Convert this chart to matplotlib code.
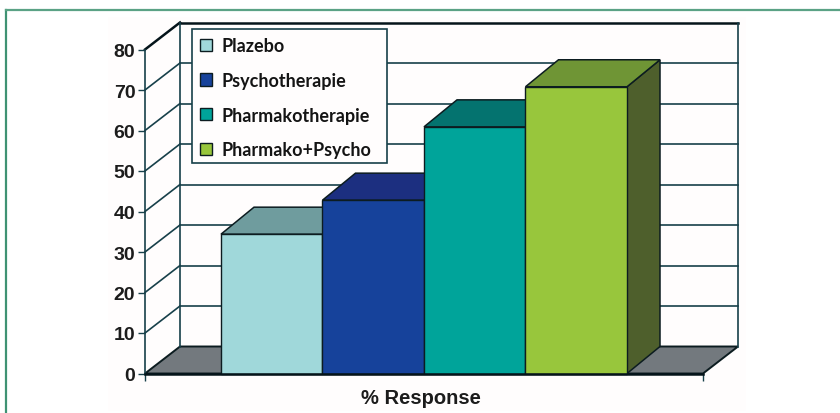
import matplotlib
matplotlib.use('Agg')
import matplotlib.pyplot as plt
from matplotlib.patches import Patch, Polygon, Rectangle

categories = ["Plazebo", "Psychotherapie", "Pharmakotherapie", "Pharmako+Psycho"]
response = [34.4, 42.8, 60.9, 70.8]
y_ticks = [0, 10, 20, 30, 40, 50, 60, 70, 80]
x_label = "% Response"

front_colors = ["#a0d8da", "#16429b", "#00a49a", "#98c63c"]
top_colors = ["#6f9c9e", "#1c2f80", "#04736f", "#6f9535"]
side_colors = ["#5b7b7c", "#142668", "#045a58", "#4e5f2c"]

W, H = 840, 414
BAR_PX = 101.5
Y_PX = 4.05
X0_PX, Y0_PX = 221.0, 374.5
# data units: one bar wide on x, percent on y
x_min, x_max = -X0_PX / BAR_PX, (W - X0_PX) / BAR_PX
y_min, y_max = -(H - Y0_PX) / Y_PX, Y0_PX / Y_PX

x_front_l = (145 - X0_PX) / BAR_PX
x_front_r = (703 - X0_PX) / BAR_PX
depth_x = 35 / BAR_PX
depth_y = 27 / Y_PX
bar_depth_x = 33 / BAR_PX

GRID = "#17404a"
EDGE = "#0c1c20"
PAPER = "#fffdfd"


def px_x(p):
    return (p - X0_PX) / BAR_PX


def px_y(p):
    return (Y0_PX - p) / Y_PX


fig = plt.figure(figsize=(W / 100, H / 100), dpi=100, facecolor="white")
ax = fig.add_axes([0, 0, 1, 1])
ax.set_xlim(x_min, x_max)
ax.set_ylim(y_min, y_max)
ax.patch.set_alpha(0)

# green rule along top and left of the page
ax.plot([px_x(5.5), px_x(5.5)], [px_y(420), px_y(11)], color="#3f9273", lw=1.6, zorder=0, solid_capstyle="projecting")
ax.plot([px_x(5.5), px_x(845)], [px_y(11), px_y(11)], color="#5aa285", lw=1.6, zorder=0, solid_capstyle="projecting")

# faint paper tone behind the plot
ax.add_patch(Rectangle((px_x(108), px_y(412)), px_x(746) - px_x(108), px_y(18) - px_y(412), fc=PAPER, ec="none", zorder=0))

# floor
ax.add_patch(Polygon([(x_front_l, 0), (x_front_r, 0), (x_front_r + depth_x, depth_y), (x_front_l + depth_x, depth_y)],
                     fc="#73797e", ec=EDGE, lw=1.4, zorder=1))

# back wall and gridlines
for t in y_ticks[1:-1]:
    ax.plot([x_front_l + depth_x, x_front_r + depth_x], [t + depth_y] * 2, color=GRID, lw=1.2, zorder=1)
    ax.plot([x_front_l, x_front_l + depth_x], [t, t + depth_y], color=GRID, lw=1.2, zorder=1)
ax.plot([x_front_l, x_front_l + depth_x], [80, 80 + depth_y], color="#05141a", lw=1.8, zorder=1)
ax.plot([x_front_l + depth_x, x_front_r + depth_x], [80 + depth_y] * 2, color="#05141a", lw=1.8, zorder=1)
ax.plot([x_front_l + depth_x] * 2, [depth_y, 80 + depth_y], color=GRID, lw=1.2, zorder=1)
ax.plot([x_front_r + depth_x] * 2, [depth_y, 80 + depth_y], color=GRID, lw=1.2, zorder=1)

# 3D columns, drawn left to right so each front covers the neighbour's side
for i, val in enumerate(response):
    x0, x1 = float(i), i + 1.0
    ax.add_patch(Polygon([(x1, 0), (x1 + bar_depth_x, depth_y), (x1 + bar_depth_x, val + depth_y), (x1, val)],
                         fc=side_colors[i], ec=EDGE, lw=1.1, zorder=2 + i))
    ax.add_patch(Polygon([(x0, val), (x1, val), (x1 + bar_depth_x, val + depth_y), (x0 + bar_depth_x, val + depth_y)],
                         fc=top_colors[i], ec=EDGE, lw=1.1, zorder=2 + i))
    ax.bar(x0, val, width=1.0, align="edge", color=front_colors[i], edgecolor=EDGE, linewidth=1.0, zorder=2 + i)

# axes themselves
for name in ["top", "right"]:
    ax.spines[name].set_visible(False)
ax.spines["left"].set_position(("data", x_front_l))
ax.spines["left"].set_bounds(0, 80)
ax.spines["left"].set_color(GRID)
ax.spines["left"].set_linewidth(1.2)
ax.spines["left"].set_zorder(8)
ax.spines["bottom"].set_position(("data", 0))
ax.spines["bottom"].set_bounds(x_front_l, x_front_r)
ax.spines["bottom"].set_color("#05141a")
ax.spines["bottom"].set_linewidth(1.8)
ax.spines["bottom"].set_zorder(8)

ax.set_yticks(y_ticks)
ax.set_xticks([x_front_l, x_front_r])
ax.set_xticklabels([])
ax.tick_params(axis="y", length=5, width=1.0, color=GRID, pad=2, labelsize=14, labelcolor="#1c1c1c")
ax.tick_params(axis="x", length=5, width=1.0, color=GRID)
for lab in ax.get_yticklabels():
    lab.set_family("Liberation Sans")
    lab.set_fontweight("bold")

ax.text(px_x(421), px_y(398.5), x_label, ha="center", va="center",
        fontsize=14.5, fontweight="bold", family="Liberation Sans", color="#1c1c1c")

# legend box is drawn separately, it is wider than the entries need
ax.add_patch(Rectangle((px_x(192), px_y(164)), px_x(387) - px_x(192), px_y(30) - px_y(164),
                       fc=PAPER, ec=GRID, lw=1.2, zorder=9))
handles = [Patch(fc=c, ec=EDGE, lw=1.0) for c in front_colors]
leg = ax.legend(handles, categories, loc="upper left", bbox_to_anchor=(192 / W, 1 - 30 / H),
                bbox_transform=fig.transFigure, borderaxespad=0, frameon=False, borderpad=0.45,
                labelspacing=0.98, handlelength=0.67, handleheight=0.67, handletextpad=0.5,
                prop={"family": "Lato", "weight": "bold", "size": 13})
leg.set_zorder(10)
for t in leg.get_texts():
    t.set_color("#141414")

fig.savefig("out.png", dpi=100)
